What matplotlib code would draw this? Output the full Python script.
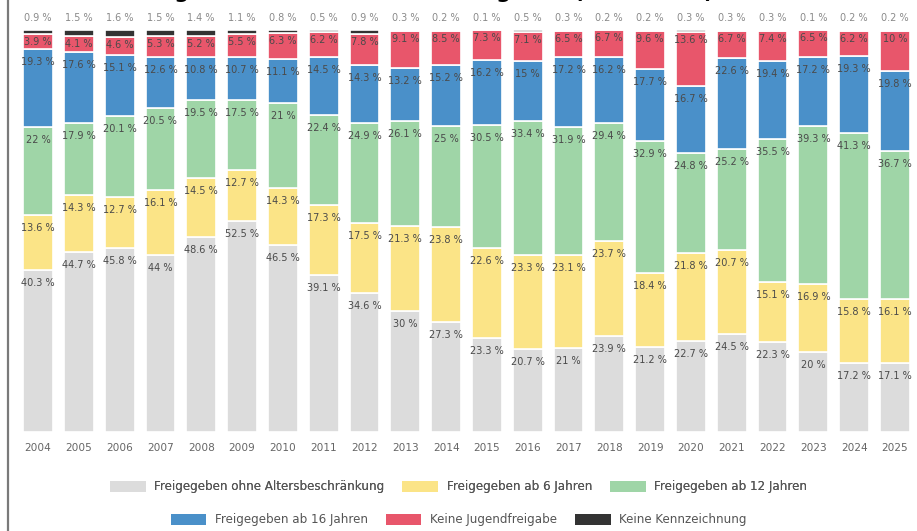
import matplotlib.pyplot as plt
from matplotlib.patches import Patch
from matplotlib.lines import Line2D

# Jahre
jahre = [str(j) for j in range(2004, 2026)]

# Anteile in Prozent je Freigabe
ohne_alter = [40.3, 44.7, 45.8, 44, 48.6, 52.5, 46.5, 39.1, 34.6, 30, 27.3,
              23.3, 20.7, 21, 23.9, 21.2, 22.7, 24.5, 22.3, 20, 17.2, 17.1]
ab_6 = [13.6, 14.3, 12.7, 16.1, 14.5, 12.7, 14.3, 17.3, 17.5, 21.3, 23.8,
        22.6, 23.3, 23.1, 23.7, 18.4, 21.8, 20.7, 15.1, 16.9, 15.8, 16.1]
ab_12 = [22, 17.9, 20.1, 20.5, 19.5, 17.5, 21, 22.4, 24.9, 26.1, 25,
         30.5, 33.4, 31.9, 29.4, 32.9, 24.8, 25.2, 35.5, 39.3, 41.3, 36.7]
ab_16 = [19.3, 17.6, 15.1, 12.6, 10.8, 10.7, 11.1, 14.5, 14.3, 13.2, 15.2,
         16.2, 15, 17.2, 16.2, 17.7, 16.7, 22.6, 19.4, 17.2, 19.3, 19.8]
keine_jugend = [3.9, 4.1, 4.6, 5.3, 5.2, 5.5, 6.3, 6.2, 7.8, 9.1, 8.5,
                7.3, 7.1, 6.5, 6.7, 9.6, 13.6, 6.7, 7.4, 6.5, 6.2, 10]
keine_kennz = [0.9, 1.5, 1.6, 1.5, 1.4, 1.1, 0.8, 0.5, 0.9, 0.3, 0.2,
               0.1, 0.5, 0.3, 0.2, 0.2, 0.3, 0.3, 0.3, 0.1, 0.2, 0.2]

namen = ['Freigegeben ohne Altersbeschränkung', 'Freigegeben ab 6 Jahren',
         'Freigegeben ab 12 Jahren', 'Freigegeben ab 16 Jahren',
         'Keine Jugendfreigabe', 'Keine Kennzeichnung']
farben = ['#dcdcdc', '#fbe487', '#9fd5a7', '#4a90c9', '#e8566b', '#333333']
reihen = [ohne_alter, ab_6, ab_12, ab_16, keine_jugend, keine_kennz]

fig = plt.figure(figsize=(9.17, 5.31), dpi=100)
ax = fig.add_axes([0.0192, 0.1864, 0.979, 0.757])

x = list(range(len(jahre)))
unten = [0.0] * len(jahre)
for i, (werte, farbe) in enumerate(zip(reihen, farben)):
    ax.bar(x, werte, bottom=unten, width=0.73, color=farbe,
           edgecolor='white', linewidth=1.2)
    for k, v in enumerate(werte):
        oben = unten[k] + v
        label = f'{v:g} %'
        if i == 5:
            # Werte fuer "Keine Kennzeichnung" ueber dem Balken
            ax.annotate(label, (k, oben), xytext=(0, 12), textcoords='offset pixels',
                        ha='center', va='center', fontsize=7, color='#8a8a8a')
        else:
            off = -8 if i == 4 else -13
            ax.annotate(label, (k, oben), xytext=(0, off), textcoords='offset pixels',
                        ha='center', va='center', fontsize=7, color='#4a4a4a')
    unten = [u + v for u, v in zip(unten, werte)]

ax.set_xlim(-0.5, len(jahre) - 0.5)
ax.set_ylim(0, 100)
ax.set_xticks(x)
ax.set_xticklabels(jahre, fontsize=7.6, color='#666666')
ax.tick_params(axis='x', length=0, pad=8)
ax.set_yticks([])
for s in ax.spines.values():
    s.set_visible(False)

# Legende in zwei Zeilen
opts = dict(loc='center', ncol=3, frameon=False, fontsize=8.6, handlelength=3.0,
            handleheight=1.1, columnspacing=1.5, handletextpad=0.7,
            labelcolor='#555555')
h1 = [Patch(facecolor=farben[i], edgecolor='none') for i in range(3)]
h2 = [Patch(facecolor=farben[i], edgecolor='none') for i in range(3, 6)]
leg1 = fig.legend(h1, namen[:3], bbox_to_anchor=(0.5, 0.083), **opts)
fig.add_artist(leg1)
fig.legend(h2, namen[3:], bbox_to_anchor=(0.5, 0.021), **opts)

# abgeschnittener Titel oben
fig.text(0.012, 1.003, 'FSK-Altersfreigaben der Kinofilme im Vergleich (in Prozent)',
         fontsize=15, fontweight='bold', va='baseline', ha='left', color='black')

# Rahmenlinie links
fig.add_artist(Line2D([0.009, 0.009], [0, 1], transform=fig.transFigure,
                      color='#7a7a7a', linewidth=1.6))

plt.savefig('out.png', dpi=100)
